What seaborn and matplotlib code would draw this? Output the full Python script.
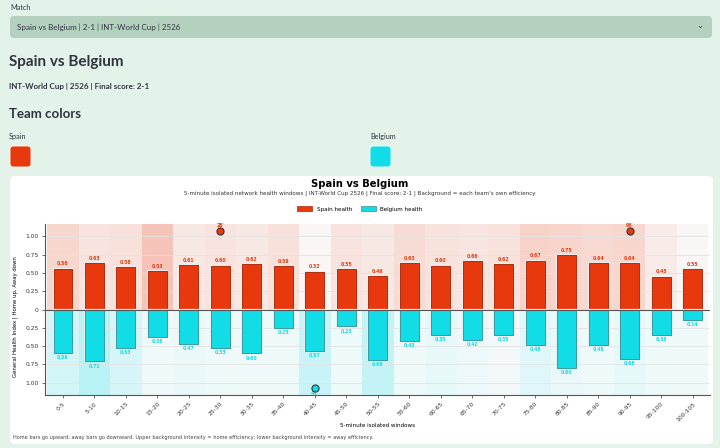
import numpy as np
import pandas as pd
import matplotlib
matplotlib.use("Agg")
import matplotlib.pyplot as plt
import matplotlib.patheffects as pe
import seaborn as sns
from matplotlib.colors import LinearSegmentedColormap
from matplotlib.patches import FancyBboxPatch, Rectangle, Patch
from matplotlib.ticker import FuncFormatter

# datos del partido
ventanas = ["0-5", "5-10", "10-15", "15-20", "20-25", "25-30", "30-35", "35-40", "40-45",
            "45-50", "50-55", "55-60", "60-65", "65-70", "70-75", "75-80", "80-85",
            "85-90", "90-95", "95-100", "100-105"]
salud_spain = [0.56, 0.63, 0.58, 0.53, 0.61, 0.60, 0.62, 0.59, 0.52, 0.55, 0.46,
               0.63, 0.60, 0.66, 0.62, 0.67, 0.75, 0.64, 0.64, 0.45, 0.55]
salud_belgium = [0.59, 0.71, 0.53, 0.38, 0.47, 0.53, 0.60, 0.25, 0.57, 0.23, 0.69,
                 0.43, 0.35, 0.42, 0.35, 0.48, 0.80, 0.48, 0.68, 0.35, 0.14]
# eficiencia (intensidad del fondo)
efic_spain = [0.22, 0.13, 0.15, 0.35, 0.10, 0.13, 0.10, 0.15, 0.00, 0.13, 0.10,
              0.18, 0.14, 0.12, 0.14, 0.25, 0.23, 0.20, 0.22, 0.08, 0.00]
efic_belgium = [0.20, 0.35, 0.18, 0.03, 0.06, 0.04, 0.03, 0.04, 0.25, 0.04, 0.28,
                0.04, 0.08, 0.05, 0.01, 0.12, 0.06, 0.04, 0.08, 0.04, 0.03]
# goles: indice de ventana y minuto
goles_spain = [(5, "28'"), (18, "93'")]
goles_belgium = [(8, "44'")]

color_spain = "#e8380d"
color_belgium = "#12dce6"
W, H = 720, 448

df = pd.DataFrame({"ventana": ventanas, "spain": salud_spain,
                   "belgium": [-v for v in salud_belgium]})

fig = plt.figure(figsize=(W / 100, H / 100), dpi=100)
fig.patch.set_facecolor("#e3f3ea")

# capa de pagina en pixeles
page = fig.add_axes([0, 0, 1, 1])
page.set_xlim(0, W)
page.set_ylim(H, 0)
page.axis("off")

ui = ["Lato", "DejaVu Sans"]
texto = "#31333f"
page.text(10, 7, "Match", fontsize=5.2, color=texto, va="center", family=ui)
page.add_patch(FancyBboxPatch((10, 16), 702, 22, boxstyle="round,pad=0,rounding_size=4",
                              fc="#b4d1c0", ec="none"))
page.text(17, 27.5, "Spain vs Belgium | 2-1 | INT-World Cup | 2526", fontsize=5.8,
          color=texto, va="center", family=ui)
page.text(700, 26, "\u2304", fontsize=6, color=texto, va="center", ha="center")
page.text(9, 62, "Spain vs Belgium", fontsize=11, weight="bold", color=texto,
          va="center", family=ui)
page.text(9, 87, "INT-World Cup | 2526 | Final score: 2-1", fontsize=5.8, weight="bold",
          color=texto, va="center", family=ui)
page.text(9, 114, "Team colors", fontsize=9.5, weight="bold", color=texto,
          va="center", family=ui)
page.text(9, 137, "Spain", fontsize=5.2, color=texto, va="center", family=ui)
page.text(370, 137, "Belgium", fontsize=5.2, color=texto, va="center", family=ui)
page.add_patch(FancyBboxPatch((10, 146), 21, 21, boxstyle="round,pad=0,rounding_size=3",
                              fc=color_spain, ec="#ffffff", lw=0.6))
page.add_patch(FancyBboxPatch((370, 146), 21, 21, boxstyle="round,pad=0,rounding_size=3",
                              fc=color_belgium, ec="#ffffff", lw=0.6))
page.add_patch(FancyBboxPatch((10, 176), 703, 268, boxstyle="round,pad=0,rounding_size=5",
                              fc="white", ec="none"))
page.text(360, 184, "Spain vs Belgium", fontsize=7.2, weight="bold", ha="center", va="center")
page.text(360, 193.5, "5-minute isolated network health windows | INT-World Cup 2526 | "
          "Final score: 2-1 | Background = each team's own efficiency",
          fontsize=4.1, ha="center", va="center", color="#333333")
page.text(13, 437, "Home bars go upward; away bars go downward. Upper background intensity = "
          "home efficiency; lower background intensity = away efficiency.",
          fontsize=3.6, va="center", color="#444444")

# grafico principal
x0, x1, y0, y1 = 45, 710, 224, 395
ax = fig.add_axes([x0 / W, 1 - y1 / H, (x1 - x0) / W, (y1 - y0) / H])
ax.set_facecolor("white")
lim = 1.17

cmap_spain = LinearSegmentedColormap.from_list("sp", ["#fafafa", color_spain])
cmap_belgium = LinearSegmentedColormap.from_list("be", ["#f9fafb", color_belgium])
for i in range(len(ventanas)):
    ax.add_patch(Rectangle((i - 0.5, 0), 1, lim, fc=cmap_spain(0.02 + 0.75 * efic_spain[i]),
                           ec="none", zorder=0))
    ax.add_patch(Rectangle((i - 0.5, -lim), 1, lim, fc=cmap_belgium(0.02 + 0.75 * efic_belgium[i]),
                           ec="none", zorder=0))

for v in [-1, -0.75, -0.5, -0.25, 0.25, 0.5, 0.75, 1]:
    ax.axhline(v, color="#e4e4e4", lw=0.6, zorder=0.5)

n_fondo = len(ax.patches)
sns.barplot(data=df, x="ventana", y="spain", color=color_spain, width=0.6,
            edgecolor="#a32a0b", linewidth=0.5, saturation=1, ax=ax, zorder=2)
sns.barplot(data=df, x="ventana", y="belgium", color=color_belgium, width=0.6,
            edgecolor="#3e8e93", linewidth=0.5, saturation=1, ax=ax, zorder=2)
for p in ax.patches[n_fondo:]:
    p.set_path_effects([pe.withStroke(linewidth=1.6, foreground="#eeeeee"), pe.Normal()])

for i in range(len(ventanas)):
    ax.text(i, salud_spain[i] + 0.03, f"{salud_spain[i]:.2f}", ha="center", va="bottom",
            fontsize=3.3, weight="bold", color=color_spain)
    ax.text(i, -salud_belgium[i] - 0.03, f"{salud_belgium[i]:.2f}", ha="center", va="top",
            fontsize=3.3, weight="bold", color=color_belgium)

for i, m in goles_spain:
    ax.scatter(i, 1.07, s=26, color=color_spain, edgecolor="#333333", linewidth=0.8, zorder=4)
    ax.text(i, 1.11, m, ha="center", va="bottom", fontsize=3.3, weight="bold", color=color_spain)
for i, m in goles_belgium:
    ax.scatter(i, -1.07, s=26, color=color_belgium, edgecolor="#333333", linewidth=0.8, zorder=4)
    ax.text(i, -1.11, m, ha="center", va="top", fontsize=3.3, weight="bold", color=color_belgium)

ax.axhline(0, color="#555555", lw=0.8, zorder=3)
ax.set_xlim(-0.57, 20.55)
ax.set_ylim(-lim, lim)
ax.set_yticks([-1, -0.75, -0.5, -0.25, 0, 0.25, 0.5, 0.75, 1])
ax.yaxis.set_major_formatter(FuncFormatter(lambda v, p: "0" if abs(v) < 1e-9 else f"{abs(v):.2f}"))
ax.set_xticks(range(len(ventanas)))
ax.set_xticklabels(ventanas, rotation=45, ha="right", rotation_mode="anchor")
ax.tick_params(labelsize=4.3, length=2.5, width=0.6, color="#555555", labelcolor="#333333", pad=2)
ax.set_xlabel("5-minute isolated windows", fontsize=4.1)
ax.set_ylabel("General Health Index | Home up, Away down", fontsize=3.9)
ax.xaxis.set_label_coords(0.5, -0.165)
ax.yaxis.set_label_coords(-0.04, 0.46)
for s in ["top", "right"]:
    ax.spines[s].set_visible(False)
for s in ["left", "bottom"]:
    ax.spines[s].set_color("#555555")
    ax.spines[s].set_linewidth(0.8)

handles = [Patch(fc=color_spain, ec="#a32a0b", lw=0.5, label="Spain health"),
           Patch(fc=color_belgium, ec="#3e8e93", lw=0.5, label="Belgium health")]
fig.legend(handles=handles, loc="center", bbox_to_anchor=(360 / W, 1 - 209 / H), ncol=2,
           frameon=False, fontsize=4.1, handlelength=2.6, handleheight=0.9, columnspacing=1.5)

fig.savefig("out.png", dpi=100, facecolor=fig.get_facecolor())
